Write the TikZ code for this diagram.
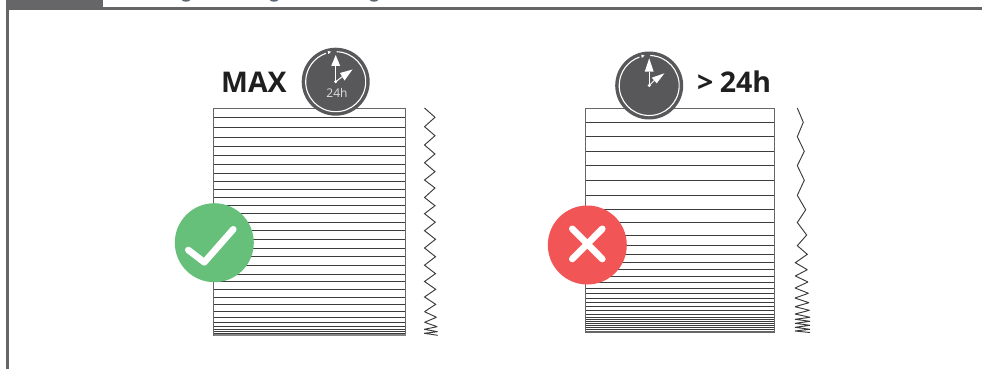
\documentclass[tikz,border=0pt]{standalone}
\usepackage{fontspec}
\setmainfont{Open Sans}
\definecolor{frame}{HTML}{666668}
\definecolor{clockc}{HTML}{58585A}
\definecolor{okc}{HTML}{66C07A}
\definecolor{noc}{HTML}{F25555}
\definecolor{rule}{HTML}{3C3C3C}
\definecolor{descender}{HTML}{5A6672}
\tikzset{
  x=1pt,y=-1pt,
  framebar/.style={draw=none,fill=frame},
  rulel/.style={draw=rule,line width=0.9pt},
  boxl/.style={draw=frame,line width=1pt},
  spring/.style={draw=rule,line width=0.95pt,line join=miter,miter limit=2},
  clockface/.style={circle,fill=clockc,minimum size=68pt,inner sep=0pt,draw=none},
  ringl/.style={draw=white,line width=1.1pt},
  handl/.style={draw=white,line width=1pt},
  mark circle/.style={circle,minimum size=79pt,inner sep=0pt,draw=none},
  tick/.style={draw=white,line width=6.6pt,line cap=round,line join=round},
  head/.style={font=\bfseries\fontsize{28.5}{32}\selectfont,text=black!88,inner sep=0pt,anchor=base west},
}
\newcommand{\clockdrawing}[5]{% cx cy tip-y base-y name
  \node[clockface] (#5) at (#1,#2) {};
  \draw[ringl] (#1,#2) ++(272:30) arc[start angle=272,end angle=611,radius=30];
  \fill[white] (#1-4.5,#2-30) -- (#1-8,#2-30.8) -- (#1-7.4,#2-27.6) -- cycle;
  \coordinate (#5hub) at (#1,#2);
  \draw[handl] (#5hub) -- (#1,#4);
  \fill[white] (#1,#3) -- (#1+4.5,#4) -- (#1-4.5,#4) -- cycle;
  \fill[white] (#1,#2) circle[radius=1.7];
}
\begin{document}
\begin{tikzpicture}
\useasboundingbox (0,0) rectangle (982,369);
% frame
\fill[framebar] (6,0) rectangle (103,9);
\fill[framebar] (6,7) rectangle (982,10);
\fill[framebar] (6,0) rectangle (8.7,369);
% cut-off heading descenders
\foreach \dx in {186,274,374}
  \fill[descender] (\dx-4,0) -- (\dx+4,0) arc[start angle=0,end angle=180,x radius=4,y radius=1.7] -- cycle;
% left stack
\foreach \ly in {117.7,127.7,137.3,146.7,155.7,164.3,173,181.3,189.7,197.3,205.7,213.5,222,230.7,239.3,248,256.7,265.3,274,281.7,289.3,297.3,304.7,311.7,317.3,322.3,326.7,329.3,331.7,333.3}
  \draw[rulel] (213.7,\ly) -- (405.7,\ly);
\draw[boxl] (213.7,108) rectangle (405.7,335.3);
\fill[frame!80] (213.7,334) rectangle (405.7,336);
\draw[spring] (424.5,108) -- (435,117.3) -- (424.5,126.7) -- (435,135.7) -- (424.5,145) -- (435,154) -- (424.5,162.7) -- (435,171.7) -- (424.5,180) -- (435,188) -- (424.5,197.5) -- (435,205.7) -- (424.5,213.7) -- (435.3,222.2) -- (424.5,230.7) -- (435.5,239.3) -- (424.5,248) -- (435.5,256.7) -- (424.5,265.2) -- (435.5,273.6) -- (424.5,281.5) -- (435.7,289.3) -- (424.5,297) -- (435.7,304.3) -- (424.5,311.7) -- (436.5,317.3) -- (424.5,322.3) -- (437.3,326.7) -- (424.3,329.3) -- (437.5,331.7) -- (424.3,333.3) -- (437.7,335.3);
% right stack
\foreach \ly in {122.3,136.7,151.3,165.7,180.3,195.3,209.8,222.5,235,245.7,254.3,262.7,269.7,276,282,288,293.3,298,302.7,306.7,310.3,314,317.3,319.3,321.3,323.3,325.3,327.3,329.3,331}
  \draw[rulel] (585.3,\ly) -- (774.7,\ly);
\draw[boxl] (585.3,108) rectangle (774.7,332);
\fill[frame] (585.3,331) rectangle (774.7,333);
\draw[spring] (797.3,108) -- (803.3,122.3) -- (797.3,136.7) -- (804.3,151.3) -- (797.3,165.7) -- (804.3,180.3) -- (797.3,195.3) -- (805.7,209.8) -- (797.3,222.5) -- (806.7,235) -- (797.3,245.7) -- (807.3,254.3) -- (795.3,262.7) -- (807.3,269.7) -- (795.3,276) -- (808,282) -- (795,288) -- (808.5,293.3) -- (795,298) -- (809,302.7) -- (795,306.7) -- (809.5,310.3) -- (795,314) -- (810,317.3) -- (795,319.3) -- (810,321.3) -- (795,323.3) -- (810,325.3) -- (795,327.3) -- (810,329.3) -- (795,331) -- (810,332.5);
% clocks
\clockdrawing{335.7}{81.7}{55}{66}{clockA}
\fill[white] (352.5,69.5) -- (340,73) -- (344.5,80.5) -- cycle;
\draw[handl] (clockAhub) -- (342.5,76.5);
\node[inner sep=0pt,text=white!88!black,font=\fontsize{12}{14}\selectfont] (clockAtext) at (337,93) {24h};
\clockdrawing{649.2}{85.5}{58.3}{71.7}{clockB}
\fill[white] (664.4,73.3) -- (651.7,77.7) -- (656.7,83.3) -- cycle;
\draw[handl] (clockBhub) -- (654.2,80.5);
% headings
\node[head] (maxtext) at (221,92.7) {MAX};
\node[head] (gttext) at (697,92.7) {>\hspace{-1pt} 24h};
% status marks
\node[mark circle,fill=okc] (ok) at (214.3,242.7) {};
\draw[tick] (188.3,250) -- (204.3,262.3) -- (233.3,229.3);
\node[mark circle,fill=noc] (no) at (587.3,245) {};
\draw[tick] (572.3,228.8) -- (602.3,259);
\draw[tick] (602.3,228.8) -- (572.3,259);
\end{tikzpicture}
\end{document}
